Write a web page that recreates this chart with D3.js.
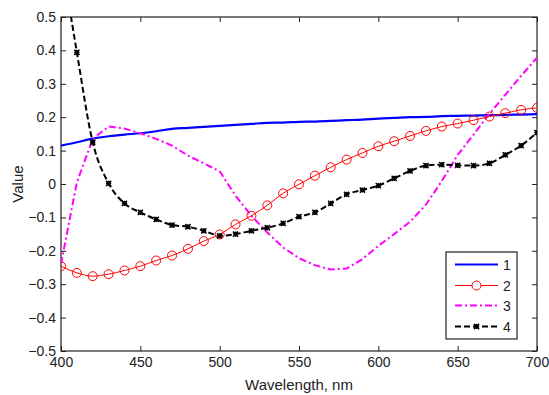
<!DOCTYPE html>
<html><head><meta charset="utf-8">
<script src="https://cdn.jsdelivr.net/npm/d3@7"></script>
<style>body{margin:0;background:#fff}svg{display:block}text{font-family:"Liberation Sans",Arial,sans-serif;fill:#222}</style>
</head><body><svg id="c" width="549" height="395"></svg>
<script>
const wavelengths = d3.range(400, 701, 10);
const series1 = [0.115,0.125,0.136,0.143,0.148,0.152,0.158,0.165,0.168,0.171,0.174,0.177,0.180,0.183,0.184,0.186,0.187,0.189,0.191,0.193,0.196,0.198,0.200,0.201,0.203,0.204,0.205,0.206,0.207,0.208,0.209];
const series2 = [-0.246,-0.266,-0.276,-0.270,-0.259,-0.246,-0.229,-0.214,-0.194,-0.171,-0.151,-0.121,-0.095,-0.064,-0.028,-0.001,0.025,0.050,0.073,0.093,0.113,0.128,0.144,0.159,0.172,0.181,0.191,0.202,0.212,0.222,0.228];
const series3 = [-0.240,0.005,0.135,0.172,0.166,0.152,0.135,0.115,0.085,0.062,0.038,-0.035,-0.095,-0.145,-0.190,-0.222,-0.243,-0.256,-0.253,-0.225,-0.185,-0.150,-0.113,-0.062,0.009,0.087,0.148,0.210,0.267,0.324,0.378];
const series4 = [0.69,0.394,0.125,0.002,-0.058,-0.085,-0.106,-0.123,-0.128,-0.140,-0.155,-0.150,-0.140,-0.131,-0.118,-0.098,-0.085,-0.058,-0.031,-0.018,-0.005,0.017,0.039,0.055,0.058,0.056,0.055,0.062,0.087,0.115,0.154];
const seriesNames = ["1","2","3","4"];
const xTicks = [400,450,500,550,600,650,700];
const yTicks = [-0.5,-0.4,-0.3,-0.2,-0.1,0,0.1,0.2,0.3,0.4,0.5];

const L=61,R=537,T=17,B=351;
const svg=d3.select("#c");
const x=d3.scaleLinear().domain([400,700]).range([L,R]);
const y=d3.scaleLinear().domain([-0.5,0.5]).range([B,T]);

svg.append("defs").append("clipPath").attr("id","clip").append("rect").attr("x",L).attr("y",T).attr("width",R-L).attr("height",B-T);

const fmtY=d=>d===0?"0":d3.format(".1f")(d);
const ax=svg.append("g");
ax.append("g").attr("transform",`translate(0,${B})`).call(d3.axisBottom(x).tickValues(xTicks).tickSizeInner(-5).tickSizeOuter(0).tickPadding(6));
ax.append("g").attr("transform",`translate(0,${T})`).call(d3.axisTop(x).tickValues(xTicks).tickSizeInner(-5).tickSizeOuter(0).tickFormat(""));
ax.append("g").attr("transform",`translate(${L},0)`).call(d3.axisLeft(y).tickValues(yTicks).tickSizeInner(-5).tickSizeOuter(0).tickPadding(5).tickFormat(fmtY));
ax.append("g").attr("transform",`translate(${R},0)`).call(d3.axisRight(y).tickValues(yTicks).tickSizeInner(-5).tickSizeOuter(0).tickFormat(""));
ax.selectAll(".domain").remove();
ax.selectAll("line").attr("stroke","#222");
ax.selectAll("text").attr("font-size",14).attr("fill","#222").attr("font-family","Liberation Sans, Arial, sans-serif");
svg.append("rect").attr("x",L).attr("y",T).attr("width",R-L).attr("height",B-T).attr("fill","none").attr("stroke","#222").attr("stroke-width",1.2);

const g=svg.append("g").attr("clip-path","url(#clip)");
const line=d3.line().x((d,i)=>x(wavelengths[i])).y(d=>y(d));
const smooth=d3.line().x((d,i)=>x(wavelengths[i])).y(d=>y(d)).curve(d3.curveMonotoneX);

g.append("path").attr("d",smooth(series1)).attr("fill","none").attr("stroke","#0000ff").attr("stroke-width",2.2);
g.append("path").attr("d",line(series3)).attr("fill","none").attr("stroke","#ff00ff").attr("stroke-width",2).attr("stroke-dasharray","7,3,2,3");
g.append("path").attr("d",smooth(series4)).attr("fill","none").attr("stroke","#000").attr("stroke-width",2).attr("stroke-dasharray","6,3");
g.append("path").attr("d",smooth(series2)).attr("fill","none").attr("stroke","#ff0000").attr("stroke-width",1);
g.selectAll(".c2").data(series2).join("circle").attr("cx",(d,i)=>x(wavelengths[i])).attr("cy",d=>y(d)).attr("r",4.5).attr("fill","none").attr("stroke","#ff0000").attr("stroke-width",1);

function star(sel,cx,cy,s){
  const p=`M${cx-s},${cy-s}L${cx+s},${cy+s}M${cx-s},${cy+s}L${cx+s},${cy-s}M${cx-s},${cy}L${cx+s},${cy}M${cx},${cy-s}L${cx},${cy+s}`;
  sel.append("path").attr("d",p).attr("stroke","#000").attr("stroke-width",1.5).attr("fill","none");
}
series4.forEach((d,i)=>{ if(d<=0.5) star(g,x(wavelengths[i]),y(d),2.6); });

svg.append("text").attr("x",(L+R)/2).attr("y",390).attr("text-anchor","middle").attr("font-size",15).text("Wavelength, nm");
svg.append("text").attr("transform",`translate(23,${(T+B)/2}) rotate(-90)`).attr("text-anchor","middle").attr("font-size",15).text("Value");

const lg=svg.append("g");
lg.append("rect").attr("x",446).attr("y",252).attr("width",71).attr("height",87).attr("fill","#fff").attr("stroke","#222").attr("stroke-width",1.2);
const ly=[264.5,285.5,305.5,326.5];
const lx1=455,lx2=498,lxm=476.5;
lg.append("line").attr("x1",lx1).attr("x2",lx2).attr("y1",ly[0]).attr("y2",ly[0]).attr("stroke","#0000ff").attr("stroke-width",2.2);
lg.append("line").attr("x1",lx1).attr("x2",lx2).attr("y1",ly[1]).attr("y2",ly[1]).attr("stroke","#ff0000").attr("stroke-width",1);
lg.append("circle").attr("cx",lxm).attr("cy",ly[1]).attr("r",4.5).attr("fill","#fff").attr("stroke","#ff0000");
lg.append("line").attr("x1",lx1).attr("x2",lx2).attr("y1",ly[2]).attr("y2",ly[2]).attr("stroke","#ff00ff").attr("stroke-width",2).attr("stroke-dasharray","7,3,2,3");
lg.append("line").attr("x1",lx1).attr("x2",lx2).attr("y1",ly[3]).attr("y2",ly[3]).attr("stroke","#000").attr("stroke-width",2).attr("stroke-dasharray","6,3");
star(lg,lxm,ly[3],2.6);
seriesNames.forEach((n,i)=>lg.append("text").attr("x",503).attr("y",ly[i]+5).attr("font-size",14).text(n));
</script></body></html>
